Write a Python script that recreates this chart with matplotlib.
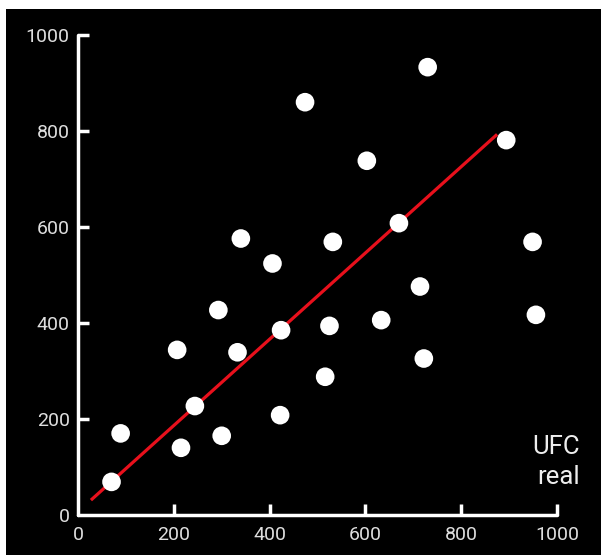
import matplotlib
matplotlib.use("Agg")
import matplotlib.pyplot as plt
from matplotlib.patches import Rectangle

# Data
x_vals = [70, 89, 207, 215, 244, 293, 300, 333, 340, 406, 424, 422, 474,
          516, 525, 532, 603, 633, 670, 714, 722, 730, 894, 949, 956]
y_vals = [69, 170, 344, 140, 227, 427, 165, 339, 576, 524, 385, 208, 860,
          288, 394, 569, 738, 406, 608, 476, 326, 933, 781, 569, 417]
fit_x = [27, 875]
fit_y = [31, 793]
ticks = [0, 200, 400, 600, 800, 1000]
tick_labels = ["0", "200", "400", "600", "800", "1000"]
label_lines = ["UFC", "real"]

W, H = 601, 555
fig = plt.figure(figsize=(W / 100, H / 100), dpi=100)
fig.patch.set_facecolor("white")
fig.patches.append(Rectangle((6 / W, 0), 1, (H - 8.5) / H, transform=fig.transFigure,
                             facecolor="black", edgecolor="none", zorder=-10))

ax = fig.add_axes([78 / W, (H - 515) / H, 479 / W, 480 / H])
ax.set_zorder(5)
ax.set_facecolor("none")
ax.set_xlim(0, 1000)
ax.set_ylim(0, 1000)

ax.plot(fit_x, fit_y, color="#e8101c", lw=2.3, solid_capstyle="butt", zorder=2)
ax.scatter(x_vals, y_vals, s=180, color="white", edgecolors="none", zorder=3, clip_on=False)

for side in ["top", "right"]:
    ax.spines[side].set_visible(False)
for side in ["left", "bottom"]:
    ax.spines[side].set_color("white")
    ax.spines[side].set_linewidth(2.5)
    ax.spines[side].set_capstyle("round")

font = "Roboto"
ax.set_xticks(ticks)
ax.set_yticks(ticks)
ax.set_xticklabels(tick_labels, fontsize=14, family=font, color="#dedede")
ax.set_yticklabels(tick_labels, fontsize=14, family=font, color="#dedede")
ax.tick_params(axis="both", direction="in", length=8, width=2.5, color="white")
ax.tick_params(axis="x", pad=8)
ax.tick_params(axis="y", pad=6)
ax.xaxis.get_major_ticks()[0].tick1line.set_visible(False)
ax.yaxis.get_major_ticks()[0].tick1line.set_visible(False)

fig.text(580 / W, 1 - 447 / H, label_lines[0], ha="right", va="center",
         fontsize=18.5, family=font, color="#eeeeee", zorder=6)
fig.text(580 / W, 1 - 477 / H, label_lines[1], ha="right", va="center",
         fontsize=18.5, family=font, color="#eeeeee", zorder=6)

fig.savefig("out.png", dpi=100, facecolor=fig.get_facecolor())
